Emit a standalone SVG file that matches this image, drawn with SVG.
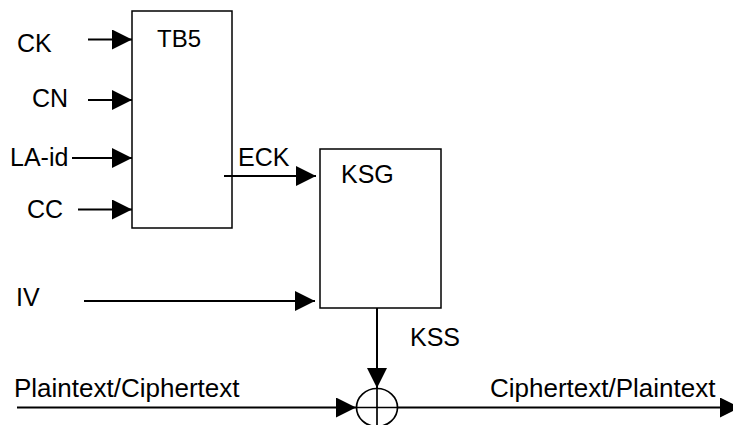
<svg xmlns="http://www.w3.org/2000/svg" width="733" height="425" viewBox="0 0 733 425">
  <defs>
    <marker id="arr" markerUnits="userSpaceOnUse" markerWidth="20" markerHeight="20" refX="20" refY="10" orient="auto" viewBox="0 0 20 20">
      <path d="M0,0 L20,10 L0,20 z" fill="#000"/>
    </marker>
    <style>
      text { font-family: "Liberation Sans", Arial, Helvetica, sans-serif; font-size: 25px; fill: #000; }
      .big { font-size: 26px; }
      .box { fill: #fff; stroke: #000; stroke-width: 1.5; }
      .conn line { stroke: #000; stroke-width: 2; fill: none; }
      .arrow { marker-end: url(#arr); }
      .xor { fill: none; stroke: #000; stroke-width: 1.7; }
    </style>
  </defs>
  <rect width="733" height="425" fill="#fff"/>

  <g id="TB5">
    <rect class="box" x="132" y="11" width="100" height="217"/>
    <text x="157" y="47" style="font-size:24px">TB5</text>
  </g>

  <g id="KSG">
    <rect class="box" x="320" y="149" width="121" height="159"/>
    <text x="341" y="183">KSG</text>
  </g>

  <g id="xor">
    <ellipse class="xor" cx="377" cy="407.5" rx="20.5" ry="19"/>
    <line class="xor" x1="356.5" y1="407.5" x2="397.5" y2="407.5"/>
    <line class="xor" x1="377" y1="388.5" x2="377" y2="426.5"/>
  </g>

  <g id="conns" class="conn">
    <line class="arrow" x1="88" y1="39.5" x2="132" y2="39.5"/>
    <line class="arrow" x1="88" y1="100" x2="132" y2="100"/>
    <line class="arrow" x1="72" y1="158" x2="132" y2="158"/>
    <line class="arrow" x1="78" y1="209.5" x2="132" y2="209.5"/>
    <line class="arrow" x1="224" y1="176" x2="316" y2="176"/>
    <line class="arrow" x1="84" y1="301" x2="315" y2="301"/>
    <line class="arrow" x1="377" y1="308" x2="377" y2="388"/>
    <line class="arrow" x1="17" y1="407.5" x2="356" y2="407.5"/>
    <line class="arrow" x1="397" y1="407.5" x2="740" y2="407.5"/>
  </g>

  <g id="labels">
    <text x="17" y="52">CK</text>
    <text x="32" y="107">CN</text>
    <text x="10" y="166">LA-id</text>
    <text x="27" y="218">CC</text>
    <text x="238" y="166">ECK</text>
    <text x="16" y="306">IV</text>
    <text x="410" y="346">KSS</text>
    <text class="big" x="14" y="397">Plaintext/Ciphertext</text>
    <text class="big" x="490" y="397">Ciphertext/Plaintext</text>
  </g>
</svg>
